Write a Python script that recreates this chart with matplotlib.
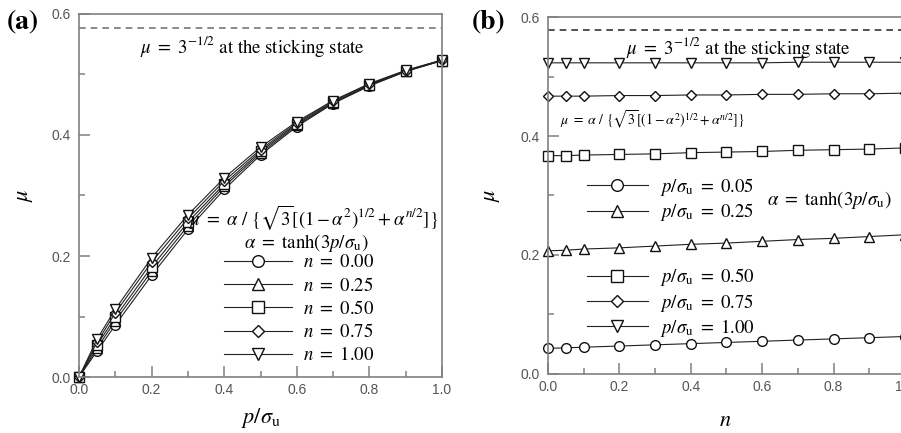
import matplotlib
matplotlib.use("Agg")
import matplotlib.pyplot as plt
from matplotlib.ticker import MultipleLocator, FormatStrFormatter

plt.rcParams['mathtext.fontset'] = 'stix'
plt.rcParams['font.family'] = ['Liberation Sans', 'DejaVu Sans']
SERIF = ['STIXGeneral', 'DejaVu Serif']

# ---------------- data ----------------
# panel (a): mu versus p/sigma_u for several n
p_vals = [0.0, 0.05, 0.1, 0.2, 0.3, 0.4, 0.5, 0.6, 0.7, 0.8, 0.9, 1.0]
n_labels = ["0.00", "0.25", "0.50", "0.75", "1.00"]
mu_n000 = [0.0, 0.043, 0.086, 0.168, 0.244, 0.310, 0.367, 0.414, 0.452, 0.481, 0.505, 0.523]
mu_n025 = [0.0, 0.048, 0.093, 0.175, 0.250, 0.315, 0.370, 0.416, 0.453, 0.482, 0.505, 0.523]
mu_n050 = [0.0, 0.053, 0.099, 0.182, 0.256, 0.319, 0.373, 0.418, 0.454, 0.483, 0.506, 0.523]
mu_n075 = [0.0, 0.058, 0.106, 0.190, 0.262, 0.324, 0.376, 0.420, 0.456, 0.484, 0.506, 0.524]
mu_n100 = [0.0, 0.063, 0.112, 0.197, 0.268, 0.329, 0.380, 0.422, 0.457, 0.485, 0.507, 0.524]

# panel (b): mu versus n for several p/sigma_u
n_vals = [0.0, 0.05, 0.1, 0.2, 0.3, 0.4, 0.5, 0.6, 0.7, 0.8, 0.9, 1.0]
p_labels = ["0.05", "0.25", "0.50", "0.75", "1.00"]
mu_p005 = [0.043, 0.044, 0.045, 0.047, 0.049, 0.051, 0.053, 0.055, 0.057, 0.059, 0.061, 0.063]
mu_p025 = [0.207, 0.208, 0.210, 0.212, 0.215, 0.218, 0.220, 0.223, 0.226, 0.228, 0.231, 0.234]
mu_p050 = [0.367, 0.367, 0.368, 0.369, 0.370, 0.372, 0.373, 0.374, 0.376, 0.377, 0.378, 0.380]
mu_p075 = [0.467, 0.467, 0.467, 0.468, 0.468, 0.469, 0.469, 0.470, 0.470, 0.471, 0.471, 0.472]
mu_p100 = [0.523, 0.523, 0.523, 0.523, 0.523, 0.523, 0.523, 0.523, 0.524, 0.524, 0.524, 0.524]

mu_stick = 0.5774

markers = ['o', '^', 's', 'D', 'v']
msizes = [7, 7, 7, 5.5, 7]

STICK = r'$\mu\ =\ 3^{-1/2}$ at the sticking state'
FORMULA = r'$\mu\ =\ \alpha\ /\ \{\sqrt{3}[(1-\alpha^2)^{1/2} + \alpha^{n/2}]\}$'
ALPHA = r'$\alpha\ =\ \mathrm{tanh}(3p/\sigma_\mathrm{u})$'

fig = plt.figure(figsize=(9.01, 4.33), dpi=100)
axA = fig.add_axes([0.0877, 0.1293, 0.4029, 0.8384])
axB = fig.add_axes([0.6082, 0.1363, 0.3962, 0.8244])

spine_col = '#808080'
tick_col = '#555555'

def style_axes(ax):
    ax.set_ylim(0, 0.6)
    ax.set_xlim(0, 1.0)
    ax.xaxis.set_major_locator(MultipleLocator(0.2))
    ax.xaxis.set_minor_locator(MultipleLocator(0.1))
    ax.yaxis.set_major_locator(MultipleLocator(0.2))
    ax.yaxis.set_minor_locator(MultipleLocator(0.1))
    for s in ax.spines.values():
        s.set_color(spine_col)
        s.set_linewidth(1.2)
    ax.tick_params(which='major', direction='in', length=8, width=1.1, color=spine_col,
                   labelcolor=tick_col, labelsize=10)
    ax.tick_params(which='minor', direction='in', length=4, width=1.1, color=spine_col)
    ax.tick_params(axis='y', which='major', pad=6)
    ax.tick_params(axis='x', which='major', pad=4)
    ax.xaxis.set_major_formatter(FormatStrFormatter('%.1f'))
    ax.yaxis.set_major_formatter(FormatStrFormatter('%.1f'))

def legend_at(ax, handles, anchor, spacing, hl):
    return ax.legend(handles=handles, loc='upper left', bbox_to_anchor=anchor,
                     frameon=False, prop={'family': SERIF, 'size': 13.5},
                     handlelength=hl, handletextpad=0.6, labelspacing=spacing,
                     borderpad=0, borderaxespad=0, numpoints=1, markerscale=1.2)

# ---------------- panel (a) ----------------
seriesA = [mu_n000, mu_n025, mu_n050, mu_n075, mu_n100]
handlesA = []
for ys, m, ms, lab in zip(seriesA, markers, msizes, n_labels):
    h, = axA.plot(p_vals, ys, color='#222222', lw=0.8, marker=m, ms=ms,
                  mfc='white', mec='#111111', mew=1.0, clip_on=False,
                  label=r'$n\ =\ $' + lab)
    handlesA.append(h)
axA.axhline(mu_stick, color='#777777', lw=1.2, ls=(0, (4, 3)))
style_axes(axA)
axA.set_ylabel(r'$\mu$', fontsize=16)
axA.yaxis.set_label_coords(-0.12, 0.5)
axA.set_xlabel(r'$p/\sigma_\mathrm{u}$', fontsize=16)
axA.xaxis.set_label_coords(0.5, -0.08)

tA = axA.get_yaxis_transform()
axA.text(0.477, 0.547, STICK, transform=tA, ha='center', va='center',
         fontsize=13.5, family=SERIF)
axA.text(0.99, 0.264, FORMULA, transform=tA, ha='right', va='center',
         fontsize=13.5, family=SERIF)
axA.text(0.625, 0.221, ALPHA, transform=tA, ha='center', va='center',
         fontsize=13.5, family=SERIF)
legend_at(axA, handlesA, (0.40, 0.338), 0.28, 3.6)
fig.text(0.007, 0.95, '(a)', fontsize=20, fontweight='bold', va='center', ha='left',
         family=SERIF)

# ---------------- panel (b) ----------------
seriesB = [mu_p005, mu_p025, mu_p050, mu_p075, mu_p100]
handlesB = []
for ys, m, ms, lab in zip(seriesB, markers, msizes, p_labels):
    h, = axB.plot(n_vals, ys, color='#222222', lw=0.8, marker=m, ms=ms,
                  mfc='white', mec='#111111', mew=1.0, clip_on=False,
                  label=r'$p/\sigma_\mathrm{u}\ =\ $' + lab)
    handlesB.append(h)
axB.axhline(mu_stick, color='#333333', lw=1.2, ls=(0, (4, 3)))
style_axes(axB)
axB.set_ylabel(r'$\mu$', fontsize=16)
axB.yaxis.set_label_coords(-0.129, 0.5)
axB.set_xlabel(r'$n$', fontsize=16)
axB.xaxis.set_label_coords(0.496, -0.1)

tB = axB.get_yaxis_transform()
axB.text(0.532, 0.548, STICK, transform=tB, ha='center', va='center',
         fontsize=13.5, family=SERIF)
axB.text(0.291, 0.427, FORMULA, transform=tB, ha='center', va='center',
         fontsize=10, family=SERIF)
axB.text(0.787, 0.292, ALPHA, transform=tB, ha='center', va='center',
         fontsize=13.5, family=SERIF)
legB1 = legend_at(axB, handlesB[:2], (0.108, 0.555), 0.18, 3.3)
axB.add_artist(legB1)
legend_at(axB, handlesB[2:], (0.108, 0.302), 0.18, 3.3)
fig.text(0.524, 0.95, '(b)', fontsize=20, fontweight='bold', va='center', ha='left',
         family=SERIF)

fig.savefig('out.png', dpi=100)
